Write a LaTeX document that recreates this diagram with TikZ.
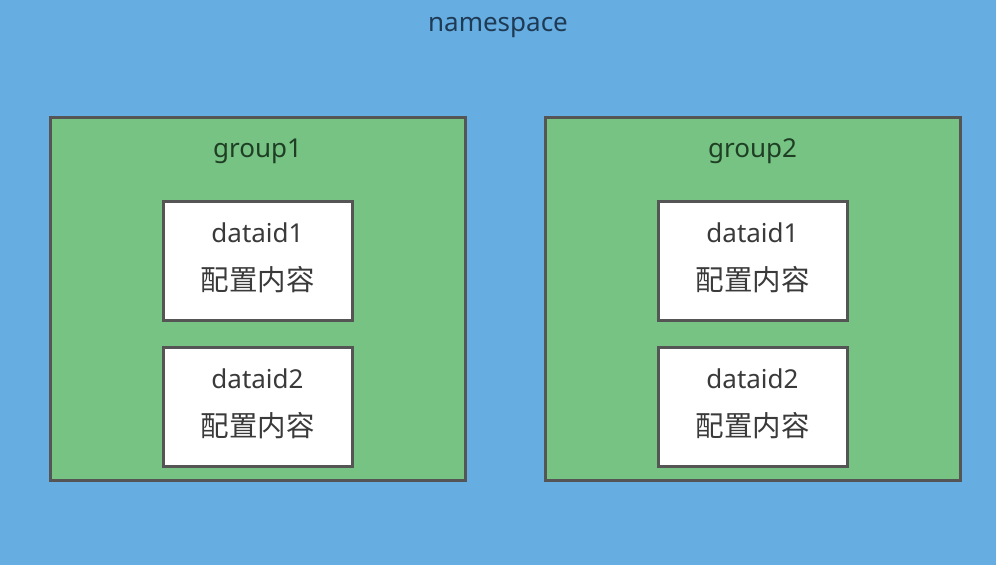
\documentclass[tikz,border=0pt]{standalone}
\usepackage{fontspec}
\setmainfont{Noto Sans}
\newfontfamily\cjk{Noto Sans CJK SC}
\definecolor{bgblue}{HTML}{66AEE2}
\definecolor{grpgreen}{HTML}{77C384}
\definecolor{edgegray}{HTML}{555555}
\definecolor{txt}{HTML}{3A3A3A}
\definecolor{nstxt}{HTML}{1F3A55}
\definecolor{gtxt}{HTML}{1F3F25}
\tikzset{
  grp/.style={draw=edgegray, line width=3pt, fill=grpgreen},
  databox/.style={draw=edgegray, line width=3pt, fill=white},
  lbl/.style={text=txt, font=\fontsize{26}{30}\selectfont, inner sep=0pt, anchor=base},
  cjklbl/.style={text=txt, font=\cjk\fontsize{28.5}{32}\selectfont, inner sep=0pt}
}
\begin{document}
\begin{tikzpicture}[x=1pt,y=-1pt]
\fill[bgblue] (0,0) rectangle (996,565);
\useasboundingbox (0,0) rectangle (996,565);
\node[lbl, text=nstxt] (ns) at (498,31) {namespace};
\foreach \g/\gx in {1/0,2/495}{
  \draw[grp] (50+\gx,117) rectangle (465+\gx,480);
  \node[lbl, text=gtxt] (g\g) at (257.5+\gx,157) {group\g};
  \foreach \d/\dy in {1/0,2/146}{
    \draw[databox] (163+\gx,201+\dy) rectangle (352+\gx,320+\dy);
    \node[lbl] (d\g\d) at (257.5+\gx,242+\dy) {dataid\d};
    \node[cjklbl] (c\g\d) at (257.5+\gx,280+\dy) {配置内容};
  }
}
\end{tikzpicture}
\end{document}
